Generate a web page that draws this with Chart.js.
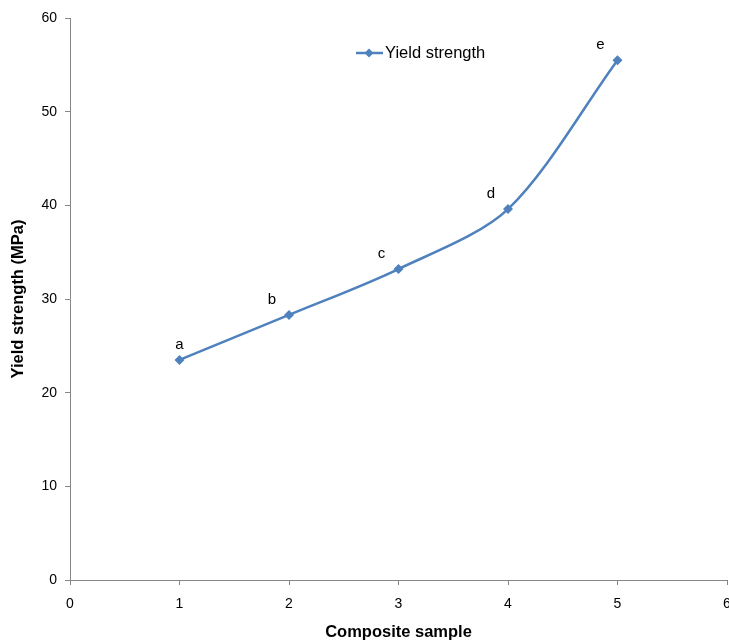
<!DOCTYPE html>
<html>
<head>
<meta charset="utf-8">
<script src="https://cdn.jsdelivr.net/npm/chart.js@4/dist/chart.umd.min.js"></script>
<style>
  html, body { margin: 0; padding: 0; background: #fff; }
  #wrap { width: 729px; height: 642px; }
</style>
</head>
<body>
<div id="wrap"><canvas id="yieldChart" width="729" height="642"></canvas></div>
<script>
const samples = [1, 2, 3, 4, 5];
const yieldStrength = [23.5, 28.3, 33.2, 39.6, 55.5];
const sampleLabels = ['a', 'b', 'c', 'd', 'e'];
const xTicks = [0, 1, 2, 3, 4, 5, 6];
const yTicks = [0, 10, 20, 30, 40, 50, 60];

const lineColor = '#4F81BD';
const axisColor = '#868686';
const fontFamily = '"Liberation Sans", Arial, sans-serif';

// Etiquetas a-e sobre cada punto
const pointLabels = {
    id: 'pointLabels',
    afterDatasetsDraw(chart) {
        const ctx = chart.ctx;
        const meta = chart.getDatasetMeta(0);
        ctx.save();
        ctx.font = '15px ' + fontFamily;
        ctx.fillStyle = '#000';
        ctx.textAlign = 'center';
        ctx.textBaseline = 'middle';
        meta.data.forEach((pt, i) => {
            const dx = i === 0 ? 0 : -17;
            ctx.fillText(sampleLabels[i], pt.x + dx, pt.y - 15);
        });
        ctx.restore();
    }
};

// Leyenda dentro del área del gráfico
const innerLegend = {
    id: 'innerLegend',
    afterDraw(chart) {
        const ctx = chart.ctx;
        const area = chart.chartArea;
        const x = area.left + 286;
        const y = area.top + 35;
        ctx.save();
        ctx.strokeStyle = lineColor;
        ctx.lineWidth = 2.5;
        ctx.beginPath();
        ctx.moveTo(x, y);
        ctx.lineTo(x + 27, y);
        ctx.stroke();
        ctx.fillStyle = lineColor;
        ctx.beginPath();
        ctx.moveTo(x + 13, y - 4.5);
        ctx.lineTo(x + 17.5, y);
        ctx.lineTo(x + 13, y + 4.5);
        ctx.lineTo(x + 8.5, y);
        ctx.closePath();
        ctx.fill();
        ctx.fillStyle = '#000';
        ctx.font = '16.5px ' + fontFamily;
        ctx.textBaseline = 'middle';
        ctx.fillText(chart.data.datasets[0].label, x + 29, y);
        ctx.restore();
    }
};

new Chart(document.getElementById('yieldChart'), {
    type: 'line',
    data: {
        datasets: [{
            label: 'Yield strength',
            data: samples.map((s, i) => ({ x: s, y: yieldStrength[i] })),
            borderColor: lineColor,
            backgroundColor: lineColor,
            borderWidth: 2.5,
            tension: 0.3,
            pointStyle: 'rectRot',
            pointRadius: 5,
            pointBorderWidth: 0,
            fill: false
        }]
    },
    options: {
        responsive: false,
        animation: false,
        layout: { autoPadding: false, padding: { top: 18, right: 2, left: 0, bottom: 0 } },
        plugins: {
            legend: { display: false },
            tooltip: { enabled: false }
        },
        scales: {
            x: {
                type: 'linear',
                min: 0,
                max: 6,
                afterBuildTicks: s => { s.ticks = xTicks.map(v => ({ value: v })); },
                afterFit: s => { s.height = 62; s.paddingRight = 0; s.paddingLeft = 0; },
                border: { color: axisColor, width: 1 },
                grid: { drawOnChartArea: false, color: axisColor, tickLength: 5 },
                ticks: { color: '#000', font: { family: fontFamily, size: 14 }, padding: 11 },
                title: {
                    display: true,
                    text: 'Composite sample',
                    color: '#000',
                    font: { family: fontFamily, size: 16.5, weight: 'bold' },
                    padding: { top: 0, bottom: 0 }
                }
            },
            y: {
                min: 0,
                max: 60,
                afterBuildTicks: s => { s.ticks = yTicks.map(v => ({ value: v })); },
                afterFit: s => { s.width = 70; },
                border: { color: axisColor, width: 1 },
                grid: { drawOnChartArea: false, color: axisColor, tickLength: 5 },
                ticks: { color: '#000', font: { family: fontFamily, size: 14 }, padding: 8 },
                title: {
                    display: true,
                    text: 'Yield strength (MPa)',
                    color: '#000',
                    font: { family: fontFamily, size: 16.5, weight: 'bold' },
                    padding: { top: 9, bottom: 0 }
                }
            }
        }
    },
    plugins: [pointLabels, innerLegend]
});
</script>
</body>
</html>
